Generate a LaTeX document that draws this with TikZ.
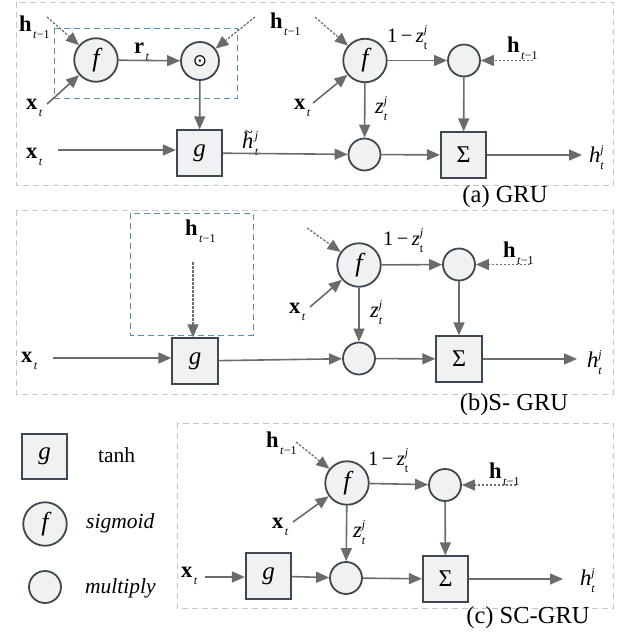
\documentclass[tikz,border=0pt]{standalone}
\usepackage{fontspec}
\setmainfont{Liberation Serif}
\newfontfamily\symfnt{DejaVu Sans}
\usetikzlibrary{arrows.meta}
\definecolor{nfill}{HTML}{F0F2F2}
\definecolor{nborder}{HTML}{3D4852}
\definecolor{agray}{HTML}{6B6B6B}
\definecolor{bgray}{HTML}{C6C6C6}
\definecolor{tealc}{HTML}{5493A7}
\newcommand\Lsub[1]{\raisebox{-7pt}{\fontsize{12}{12}\selectfont #1}}
\newcommand\Lsup[1]{\raisebox{8.5pt}{\fontsize{12}{12}\selectfont #1}}
\newcommand\Lss[2]{\makebox[0pt][l]{\Lsup{#2}}\Lsub{#1}}
\newcommand\hprev{\textbf{h}\kern1.5pt\Lsub{\textit{t}−1}}
\newcommand\xsub{\textbf{x}\kern1.5pt\Lsub{\textit{t}}}
\newcommand\omz{1\,−\,\textit{z}\Lss{t}{\textit{j}}}
\newcommand\zsub{\textit{z}\Lss{\textit{t}}{\textit{j}}}
\newcommand\hout{\textit{h}\Lss{\textit{t}}{\textit{j}}}
\newcommand\htil{\makebox[0pt][l]{\hspace{2pt}\raisebox{11pt}{\fontsize{16}{16}\selectfont\textasciitilde}}\textit{h}\kern1.5pt\Lss{\textit{t}}{\textit{j}}}
\begin{document}
\begin{tikzpicture}[x=1pt,y=-1pt,
  gbox/.style={draw=nborder, fill=nfill, line width=1.8pt, minimum size=45.5pt, inner sep=0pt, font=\fontsize{25}{25}\selectfont},
  fcirc/.style={circle, draw=nborder, fill=nfill, line width=1.8pt, minimum size=43.5pt, inner sep=0pt, font=\fontsize{26}{26}\selectfont\itshape},
  mcirc/.style={circle, draw=nborder, fill=nfill, line width=1.8pt, minimum size=32pt, inner sep=0pt},
  conn/.style={draw=agray, line width=1.6pt, -{Triangle[length=13pt,width=11pt]}},
  dconn/.style={draw=agray, line width=1.2pt, dash pattern=on 2.5pt off 1.5pt, -{Triangle[length=13pt,width=11pt]}},
  lbl/.style={inner sep=0pt, anchor=base west, font=\fontsize{22.5}{22.5}\selectfont},
  frame/.style={draw=bgray, line width=1pt, dash pattern=on 6pt off 4pt},
  tealbox/.style={draw=tealc, line width=1pt, dash pattern=on 6pt off 4pt},
  captxt/.style={inner sep=0pt, font=\fontsize{24.5}{24.5}\selectfont}]
\useasboundingbox (0,0) rectangle (630,637);
% ---------------- (a) GRU ----------------
\draw[frame] (16,2) rectangle (613,185);
\draw[tealbox] (54,28) rectangle (237,98);
\node[fcirc] (fA) at (96,60) {f};
\node[mcirc, minimum size=38pt, font=\symfnt\fontsize{17}{17}\selectfont] (oA) at (200,61) {⊙};
\node[gbox] (gA) at (199.5,153) {\textit{g}};
\node[fcirc] (fA2) at (365,60.5) {f};
\node[mcirc] (mA1) at (464,60.5) {};
\node[mcirc] (mA2) at (364.5,154.5) {};
\node[gbox, font=\fontsize{24}{24}\selectfont] (SA) at (463.5,155) {Σ};
\coordinate (hA1) at (47,17);
\coordinate (xA1) at (47,104);
\coordinate (xA2) at (58,150);
\coordinate (hA2) at (255,17);
\coordinate (hA3) at (315,17);
\coordinate (xA3) at (313,103);
\coordinate (hA4) at (533,60.5);
\coordinate (oAo) at (582,155);
\node[lbl] (lhA1) at (19,31) {\hprev};
\node[lbl] (lxA1) at (26,109) {\xsub};
\node[lbl] (lxA2) at (26,158) {\xsub};
\node[lbl] (lrA) at (134,53) {\textbf{r}\kern1.5pt\Lsub{\textit{t}}};
\node[lbl] (lhA2) at (270,28) {\hprev};
\node[lbl] (lhtA) at (242,148) {\htil};
\node[lbl] (lxA3) at (294,109) {\xsub};
\node[lbl, font=\fontsize{20.5}{20.5}\selectfont] (lomzA) at (387,42) {\omz};
\node[lbl] (lzA) at (375,113) {\zsub};
\node[lbl] (lhA4) at (507,52) {\hprev};
\node[lbl] (lhoA) at (589,162) {\hout};
\node[captxt] (capA) at (505,197) {(a) GRU};
\draw[dconn] (hA1) -- (fA);
\draw[conn] (xA1) -- (fA);
\draw[conn] (fA) -- (oA);
\draw[dconn] (hA2) -- (oA);
\draw[conn] (oA) -- (gA);
\draw[conn] (xA2) -- (xA2 -| gA.west);
\draw[conn] (gA) -- (mA2);
\draw[dconn] (hA3) -- (fA2);
\draw[conn] (xA3) -- (fA2);
\draw[conn] (fA2) -- (mA1);
\draw[dconn] (hA4) -- (mA1);
\draw[conn] (fA2) -- (mA2);
\draw[conn] (mA1) -- (SA);
\draw[conn] (mA2) -- (SA);
\draw[conn] (SA) -- (oAo);
% ---------------- (b) S-GRU ----------------
\draw[frame] (16,210) rectangle (613,394);
\draw[tealbox] (130,213) rectangle (253,335);
\node[gbox] (gB) at (195,361) {\textit{g}};
\node[fcirc] (fB) at (359,265) {f};
\node[mcirc] (mB1) at (459,264.5) {};
\node[mcirc] (mB2) at (359,358.5) {};
\node[gbox, font=\fontsize{24}{24}\selectfont] (SB) at (459,359) {Σ};
\coordinate (hB1) at (193,262);
\coordinate (xB1) at (53,358);
\coordinate (hB2) at (307,228);
\coordinate (xB2) at (310,307);
\coordinate (hB3) at (530,264.5);
\coordinate (oBo) at (577,359);
\node[lbl] (lhB1) at (185,235) {\hprev};
\node[lbl] (lxB1) at (21,362) {\xsub};
\node[lbl] (lxB2) at (289,313) {\xsub};
\node[lbl, font=\fontsize{20.5}{20.5}\selectfont] (lomzB) at (383,245) {\omz};
\node[lbl] (lzB) at (370,317) {\zsub};
\node[lbl] (lhB3) at (503,257) {\hprev};
\node[lbl] (lhoB) at (587,367) {\hout};
\node[captxt] (capB) at (514,405) {(b)S- GRU};
\draw[dconn] (hB1) -- (hB1 |- gB.north);
\draw[conn] (xB1) -- (xB1 -| gB.west);
\draw[conn] (gB) -- (mB2);
\draw[dconn] (hB2) -- (fB);
\draw[conn] (xB2) -- (fB);
\draw[conn] (fB) -- (mB1);
\draw[dconn] (hB3) -- (mB1);
\draw[conn] (fB) -- (mB2);
\draw[conn] (mB1) -- (SB);
\draw[conn] (mB2) -- (SB);
\draw[conn] (SB) -- (oBo);
% ---------------- legend ----------------
\node[gbox] (gL) at (44.5,456.5) {\textit{g}};
\node[fcirc] (fL) at (45,524) {f};
\node[mcirc] (mL) at (45,587) {};
\node[lbl, font=\fontsize{21.5}{21.5}\selectfont] (tL1) at (98,462) {tanh};
\node[lbl, font=\fontsize{21.5}{21.5}\selectfont\itshape] (tL2) at (86,528) {sigmoid};
\node[lbl, font=\fontsize{21.5}{21.5}\selectfont\itshape] (tL3) at (85,593) {multiply};
% ---------------- (c) SC-GRU ----------------
\draw[frame] (177,423) rectangle (613,608);
\node[gbox] (gC) at (268.5,576) {\textit{g}};
\node[fcirc] (fC) at (347,483) {f};
\node[mcirc] (mC1) at (445,485) {};
\node[mcirc] (mC2) at (346,578) {};
\node[gbox, font=\fontsize{24}{24}\selectfont] (SC) at (445.5,579) {Σ};
\coordinate (hC1) at (296,442);
\coordinate (xC1) at (293,522);
\coordinate (xC2) at (205,577);
\coordinate (hC2) at (516,485);
\coordinate (oCo) at (563,579);
\node[lbl] (lhC1) at (266,447) {\hprev};
\node[lbl] (lxC1) at (272,528) {\xsub};
\node[lbl] (lxC2) at (181,577) {\xsub};
\node[lbl, font=\fontsize{20.5}{20.5}\selectfont] (lomzC) at (368,465) {\omz};
\node[lbl] (lzC) at (353,537) {\zsub};
\node[lbl] (lhC2) at (489,478) {\hprev};
\node[lbl] (lhoC) at (580,585) {\hout};
\node[captxt] (capC) at (528,618) {(c) SC-GRU};
\draw[dconn] (hC1) -- (fC);
\draw[conn] (xC1) -- (fC);
\draw[conn] (xC2) -- (xC2 -| gC.west);
\draw[conn] (gC) -- (mC2);
\draw[conn] (fC) -- (mC1);
\draw[dconn] (hC2) -- (mC1);
\draw[conn] (fC) -- (mC2);
\draw[conn] (mC1) -- (SC);
\draw[conn] (mC2) -- (SC);
\draw[conn] (SC) -- (oCo);
\end{tikzpicture}
\end{document}
